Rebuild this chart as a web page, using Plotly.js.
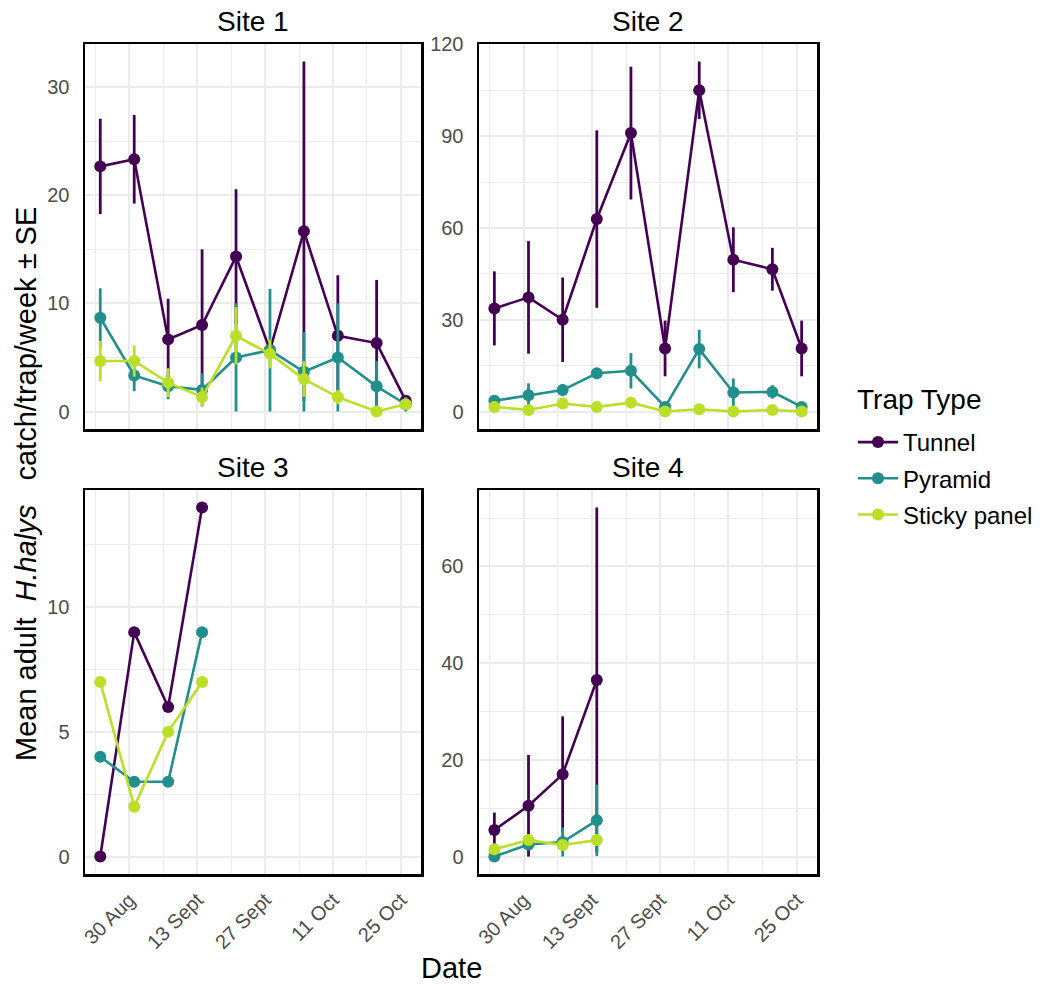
<!DOCTYPE html>
<html>
<head>
<meta charset="utf-8">
<script src="https://cdn.plot.ly/plotly-3.0.1.min.js"></script>
<style>html,body{margin:0;padding:0;background:#fff;}#chart{width:1040px;height:984px;}</style>
</head>
<body>
<div id="chart"></div>
<script>
// ---- data ----
const trapTypes = ['Tunnel', 'Pyramid', 'Sticky panel'];
const siteNames = ['Site 1', 'Site 2', 'Site 3', 'Site 4'];
const datesFull = ['2022-08-24','2022-08-31','2022-09-07','2022-09-14','2022-09-21','2022-09-28','2022-10-05','2022-10-12','2022-10-20','2022-10-26'];
const datesShort = ['2022-08-24','2022-08-31','2022-09-07','2022-09-14'];

const tickDates = ['2022-08-30','2022-09-13','2022-09-27','2022-10-11','2022-10-25'];
const tickLabels = ['30 Aug','13 Sept','27 Sept','11 Oct','25 Oct'];
const minorTickDates = ['2022-08-23','2022-09-06','2022-09-20','2022-10-04','2022-10-18'];

// Site 1
const tunnel1   = [22.67, 23.33, 6.67, 8.0, 14.33, 5.67, 16.67, 7.0, 6.33, 1.0];
const tunnel1SE = [4.41, 4.1, 3.76, 7.0, 6.23, 0.67, 15.7, 5.6, 5.84, 0.3];
const pyramid1   = [8.67, 3.33, 2.33, 2.0, 5.0, 5.67, 3.67, 5.0, 2.33, 0.67];
const pyramid1SE = [2.73, 1.45, 1.2, 1.53, 5.0, 5.67, 3.67, 5.0, 2.33, 0.67];
const sticky1   = [4.67, 4.67, 2.67, 1.33, 7.0, 5.33, 3.0, 1.33, 0, 0.67];
const sticky1SE = [1.86, 1.45, 1.33, 0.88, 2.65, 1.33, 1.65, 0.67, 0, 0.33];

// Site 2
const tunnel2   = [33.7, 37.3, 30.0, 62.9, 91.0, 20.6, 105.0, 49.6, 46.5, 20.6];
const tunnel2SE = [12.1, 18.4, 13.8, 29.0, 21.7, 9.1, 9.4, 10.6, 7.0, 9.1];
const pyramid2   = [3.5, 5.3, 7.0, 12.5, 13.3, 1.5, 20.4, 6.2, 6.4, 1.5];
const pyramid2SE = [0.5, 3.9, 2.0, 1.0, 5.8, 1.5, 6.3, 4.6, 2.2, 1.0];
const sticky2   = [1.5, 0.5, 2.6, 1.5, 2.9, 0, 0.75, 0, 0.5, 0];
const sticky2SE = [0.8, 0.5, 0.8, 0.5, 0.8, 0, 0.5, 0, 0.5, 0];

// Site 3 (no SE)
const tunnel3  = [0, 9, 6, 14];
const pyramid3 = [4, 3, 3, 9];
const sticky3  = [7, 2, 5, 7];

// Site 4
const tunnel4   = [5.5, 10.5, 17.0, 36.5];
const tunnel4SE = [3.6, 10.5, 12.0, 35.7];
const pyramid4   = [0, 2.5, 3.0, 7.5];
const pyramid4SE = [0, 0.5, 3.0, 7.4];
const sticky4   = [1.5, 3.4, 2.4, 3.4];
const sticky4SE = [0.5, 0.5, 0.5, 0.5];

// ---- styling ----
const colors = ['#440154', '#21908C', '#BBDF27'];
const FONT = '"Liberation Sans", Arial, Helvetica, sans-serif';

const sites = [
  {x: datesFull,  series: [[tunnel1, tunnel1SE], [pyramid1, pyramid1SE], [sticky1, sticky1SE]], yd: 10},
  {x: datesFull,  series: [[tunnel2, tunnel2SE], [pyramid2, pyramid2SE], [sticky2, sticky2SE]], yd: 30},
  {x: datesShort, series: [[tunnel3, null], [pyramid3, null], [sticky3, null]], yd: 5},
  {x: datesShort, series: [[tunnel4, tunnel4SE], [pyramid4, pyramid4SE], [sticky4, sticky4SE]], yd: 20}
];

const traces = [];
sites.forEach((s, si) => {
  const ax = si === 0 ? '' : String(si + 1);
  s.series.forEach((pair, ti) => {
    const tr = {
      type: 'scatter', mode: 'lines+markers',
      x: s.x, y: pair[0],
      xaxis: 'x' + ax, yaxis: 'y' + ax,
      name: trapTypes[ti], legendgroup: trapTypes[ti], showlegend: si === 0,
      line: {color: colors[ti], width: 2.6},
      marker: {color: colors[ti], size: 12},
      hoverinfo: 'x+y+name'
    };
    if (pair[1]) {
      tr.error_y = {type: 'data', array: pair[1], symmetric: true, width: 0, thickness: 2.8, color: colors[ti]};
    }
    traces.push(tr);
  });
});

// ggplot-like 5% expansion of the data ranges
function dateRange() {
  const t = datesFull.map(d => new Date(d + 'T00:00:00Z').getTime());
  const lo = Math.min(...t), hi = Math.max(...t), pad = (hi - lo) * 0.05;
  const f = v => new Date(v).toISOString().replace('T', ' ').replace('Z', '');
  return [f(lo - pad), f(hi + pad)];
}
function yRange(series) {
  let lo = Infinity, hi = -Infinity;
  series.forEach(([v, se]) => v.forEach((val, i) => {
    const e = se ? se[i] : 0;
    lo = Math.min(lo, val - e); hi = Math.max(hi, val + e);
  }));
  const pad = (hi - lo) * 0.05;
  return [lo - pad, hi + pad];
}
const xr = dateRange();

const gridC = '#ebebeb';
function xAxis(domain, anchor, showLabels) {
  return {
    type: 'date', domain: domain, anchor: anchor, range: xr,
    tickmode: 'array', tickvals: tickDates, ticktext: tickLabels,
    showticklabels: showLabels, tickangle: -45,
    tickfont: {size: 20, color: '#4d4d4d', family: FONT},
    showgrid: true, gridcolor: gridC, gridwidth: 2,
    minor: {tickmode: 'array', tickvals: minorTickDates, showgrid: true, gridcolor: gridC, gridwidth: 1, ticks: ''},
    showline: true, mirror: true, linecolor: '#000', linewidth: 2.5,
    zeroline: false, ticks: '', ticklabelstandoff: 4, fixedrange: true
  };
}
function yAxis(domain, anchor, s) {
  return {
    domain: domain, anchor: anchor, range: yRange(s.series),
    tick0: 0, dtick: s.yd,
    tickfont: {size: 20, color: '#4d4d4d', family: FONT},
    showgrid: true, gridcolor: gridC, gridwidth: 2,
    minor: {tick0: 0, dtick: s.yd / 2, showgrid: true, gridcolor: gridC, gridwidth: 1, ticks: ''},
    showline: true, mirror: true, linecolor: '#000', linewidth: 2.5,
    zeroline: false, ticks: '', ticklabelstandoff: 9, fixedrange: true
  };
}

const dx1 = [85/1040, 421/1040], dx2 = [479/1040, 817/1040];
const dyT = [1 - 429/984, 1 - 44/984], dyB = [1 - 874/984, 1 - 490/984];

function ann(text, xpx, ypx, size, extra) {
  return Object.assign({text: text, x: xpx/1040, y: 1 - ypx/984, xref: 'paper', yref: 'paper',
    xanchor: 'center', yanchor: 'middle', showarrow: false, font: {size: size, family: FONT, color: '#000'}}, extra || {});
}

const layout = {
  width: 1040, height: 984,
  margin: {l: 0, r: 0, t: 0, b: 0},
  paper_bgcolor: '#fff', plot_bgcolor: '#fff',
  font: {family: FONT, color: '#000'},
  xaxis: xAxis(dx1, 'y', false),
  xaxis2: xAxis(dx2, 'y2', false),
  xaxis3: xAxis(dx1, 'y3', true),
  xaxis4: xAxis(dx2, 'y4', true),
  yaxis: yAxis(dyT, 'x', sites[0]),
  yaxis2: yAxis(dyT, 'x2', sites[1]),
  yaxis3: yAxis(dyB, 'x3', sites[2]),
  yaxis4: yAxis(dyB, 'x4', sites[3]),
  showlegend: true,
  legend: {
    x: 853/1040, y: 1 - 420/984, xanchor: 'left', yanchor: 'top',
    font: {size: 24, family: FONT, color: '#000'},
    tracegroupgap: 2, itemwidth: 40,
    bgcolor: 'rgba(0,0,0,0)', borderwidth: 0
  },
  annotations: [
    ann(siteNames[0], 253, 21, 28),
    ann(siteNames[1], 648, 21, 28),
    ann(siteNames[2], 253, 467, 28),
    ann(siteNames[3], 648, 467, 28),
    ann('Date', 451, 968, 29),
    ann('Trap Type', 855, 399, 28, {xanchor: 'left'}),
    ann('Mean adult\u00a0\u00a0<i>H.halys</i>\u00a0\u00a0\u00a0catch/trap/week \u00b1 SE', 26, 484, 29, {textangle: -90})
  ]
};

Plotly.newPlot('chart', traces, layout, {staticPlot: true, displayModeBar: false});
</script>
</body>
</html>
